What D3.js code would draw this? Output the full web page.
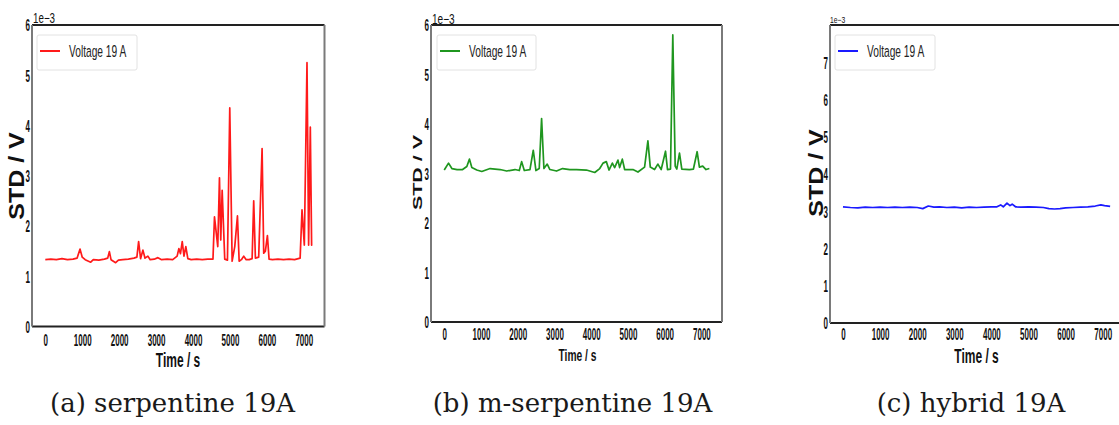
<!DOCTYPE html>
<html>
<head>
<meta charset="utf-8">
<script src="https://cdn.jsdelivr.net/npm/d3@7"></script>
<style>
  html, body { margin: 0; padding: 0; background: #fff; }
  svg { display: block; }
</style>
</head>
<body>
<svg id="chart" width="1119" height="425"></svg>
<script>
// ---------------- data (STD in units of 1e-3 V, time in s) ----------------
const timeA = [0,150,300,450,600,750,860,941,1000,1080,1230,1300,1450,1600,1690,1735,1780,1905,1980,2100,2250,2400,2480,2527,2580,2643,2700,2778,2840,2950,3050,3150,3300,3450,3570,3616,3660,3708,3755,3805,3860,3950,4100,4250,4400,4540,4581,4670,4716,4751,4789,4859,4932,4995,5059,5130,5203,5249,5310,5373,5440,5520,5600,5643,5689,5778,5870,5914,5959,6014,6059,6150,6300,6450,6600,6750,6900,6951,7014,7086,7130,7176,7211,7230];
const stdA  = [1.33,1.34,1.33,1.35,1.33,1.34,1.36,1.54,1.38,1.33,1.28,1.33,1.32,1.34,1.36,1.49,1.33,1.27,1.32,1.33,1.34,1.36,1.38,1.69,1.35,1.52,1.36,1.40,1.33,1.34,1.37,1.33,1.34,1.33,1.40,1.55,1.45,1.69,1.40,1.59,1.35,1.33,1.34,1.33,1.34,1.34,2.18,1.59,2.96,1.72,2.71,1.34,1.32,4.35,1.30,1.59,2.20,1.30,1.33,1.40,1.33,1.33,1.35,2.50,1.36,1.38,3.54,1.46,1.50,1.81,1.34,1.33,1.34,1.33,1.34,1.33,1.36,2.32,1.62,5.25,1.62,3.97,1.62,1.62];

const timeB = [0,117,208,350,500,615,687,751,886,1022,1248,1519,1700,1926,2043,2107,2179,2333,2424,2496,2586,2650,2713,2803,2876,3057,3220,3418,3599,3870,4096,4232,4322,4412,4485,4576,4638,4728,4774,4847,4910,5136,5272,5453,5543,5608,5724,5814,5905,6023,6077,6158,6221,6286,6330,6403,6466,6674,6782,6883,6945,7035,7125,7216];
const stdB  = [3.07,3.21,3.10,3.08,3.08,3.14,3.29,3.12,3.07,3.04,3.10,3.08,3.05,3.08,3.06,3.24,3.06,3.08,3.47,3.06,3.10,4.11,3.10,3.19,3.08,3.05,3.10,3.08,3.08,3.07,3.02,3.10,3.21,3.24,3.07,3.21,3.12,3.27,3.12,3.29,3.08,3.08,3.03,3.13,3.66,3.13,3.08,3.19,3.08,3.45,3.08,3.09,5.80,3.15,3.09,3.41,3.09,3.08,3.09,3.44,3.13,3.15,3.08,3.10];

const timeC = [0,200,400,600,800,1000,1200,1400,1600,1800,2000,2150,2300,2450,2600,2800,3000,3200,3400,3600,3800,4000,4150,4250,4320,4420,4500,4560,4650,4800,5000,5200,5400,5550,5700,5850,6000,6200,6400,6600,6800,6950,7050,7200];
const stdC  = [3.12,3.10,3.09,3.11,3.10,3.11,3.10,3.11,3.10,3.11,3.10,3.07,3.14,3.11,3.12,3.10,3.11,3.09,3.11,3.10,3.11,3.12,3.12,3.17,3.12,3.22,3.15,3.19,3.12,3.11,3.12,3.11,3.10,3.07,3.06,3.07,3.09,3.10,3.11,3.12,3.14,3.17,3.15,3.13];

const xTicks   = [0,1000,2000,3000,4000,5000,6000,7000];
const yTicksAB = [0,1,2,3,4,5,6];
const yTicksC  = [0,1,2,3,4,5,6,7];
const legendLabel = "Voltage 19 A";
const xLabel = "Time / s";
const yLabel = "STD / V";
const offsetLabel = "1e\u22123";
const captions = ["(a) serpentine 19A", "(b) m-serpentine 19A", "(c) hybrid 19A"];
const colors = ["#ff1a1a", "#1f961f", "#1a1aff"];

// ---------------- layout ----------------
const SANS = "'Liberation Sans', Arial, sans-serif";
const SERIF = "'DejaVu Serif', 'Liberation Serif', serif";
const panels = [
  { t: timeA, v: stdA, yTicks: yTicksAB, yMax: 6, color: colors[0], caption: captions[0],
    L: 32, R: 324.5, T: 25, B: 326.5, xDom: [-360, 7560],
    tickOff: 19, ylab: { x: 16, y: 176, fs: 25, sy: 0.85 }, xlab: { x: 178, y: 367, fs: 20, sx: 0.6 },
    off: { x: 33, y: 23, fs: 14, sx: 0.7 }, leg: { x: 37, y: 35, w: 100, h: 35 }, capX: 172.5 },
  { t: timeB, v: stdB, yTicks: yTicksAB, yMax: 6, color: colors[1], caption: captions[1],
    L: 431, R: 722, T: 25, B: 322, xDom: [-360, 7560],
    tickOff: 17.5, ylab: { x: 417.5, y: 172.5, fs: 21.5, sy: 0.63 }, xlab: { x: 577.5, y: 361, fs: 16.5, sx: 0.62 },
    off: { x: 432, y: 24, fs: 14, sx: 0.72 }, leg: { x: 437, y: 35, w: 99, h: 35 }, capX: 572.5 },
  { t: timeC, v: stdC, yTicks: yTicksC, yMax: 8, color: colors[2], caption: captions[2],
    L: 830, R: 1122, T: 25, B: 323, xDom: [-350, 7520],
    tickOff: 17, ylab: { x: 815.5, y: 173, fs: 25, sy: 0.82 }, xlab: { x: 976.5, y: 363, fs: 20, sx: 0.6 },
    off: { x: 830, y: 23, fs: 9, sx: 0.75 }, leg: { x: 835, y: 35, w: 100, h: 35 }, capX: 971 }
];

const svg = d3.select("#chart");
const TICK_FS = 16, TICK_SX = 0.5;

panels.forEach((p, i) => {
  const g = svg.append("g");
  const x = d3.scaleLinear().domain(p.xDom).range([p.L, p.R]);
  const y = d3.scaleLinear().domain([0, p.yMax]).range([p.B, p.T]);

  // data line
  const pts = p.t.map((d, k) => [d, p.v[k]]);
  g.append("path")
    .datum(pts)
    .attr("fill", "none")
    .attr("stroke", p.color)
    .attr("stroke-width", 1.7)
    .attr("stroke-linejoin", "round")
    .attr("d", d3.line().x(d => x(d[0])).y(d => y(d[1])));

  // frame
  g.append("line").attr("x1", p.L).attr("x2", p.R).attr("y1", p.T).attr("y2", p.T).attr("stroke", "#222").attr("stroke-width", 2);
  g.append("line").attr("x1", p.L).attr("x2", p.R).attr("y1", p.B).attr("y2", p.B).attr("stroke", "#222").attr("stroke-width", 2);
  g.append("line").attr("x1", p.L).attr("x2", p.L).attr("y1", p.T).attr("y2", p.B).attr("stroke", "#7a7a7a").attr("stroke-width", 2);
  g.append("line").attr("x1", p.R).attr("x2", p.R).attr("y1", p.T).attr("y2", p.B).attr("stroke", "#7a7a7a").attr("stroke-width", 2);

  // x axis
  const xa = g.append("g").attr("transform", `translate(0,${p.B})`)
    .call(d3.axisBottom(x).tickValues(xTicks).tickSize(0).tickPadding(0).tickFormat(d3.format("d")));
  xa.select(".domain").remove();
  xa.selectAll("text")
    .attr("y", null).attr("dy", null)
    .attr("transform", `translate(0,${p.tickOff}) scale(${TICK_SX},1)`)
    .attr("font-size", TICK_FS).attr("font-weight", "bold").attr("font-family", SANS).attr("fill", "#111");

  // y axis
  const ya = g.append("g").attr("transform", `translate(${p.L},0)`)
    .call(d3.axisLeft(y).tickValues(p.yTicks).tickSize(0).tickPadding(0).tickFormat(d3.format("d")));
  ya.select(".domain").remove();
  ya.selectAll("text")
    .attr("x", null).attr("dy", "0.36em")
    .attr("transform", `translate(-2,0) scale(${TICK_SX},1)`)
    .attr("font-size", TICK_FS).attr("font-weight", "bold").attr("font-family", SANS).attr("fill", "#111");

  // offset text
  g.append("text").attr("transform", `translate(${p.off.x},${p.off.y}) scale(${p.off.sx},1)`)
    .attr("font-family", SANS).attr("fill", "#111")
    .attr("font-size", p.off.fs).text(offsetLabel);

  // axis labels
  g.append("text").attr("transform", `translate(${p.xlab.x},${p.xlab.y}) scale(${p.xlab.sx},1)`)
    .attr("text-anchor", "middle").attr("font-family", SANS).attr("fill", "#111")
    .attr("font-size", p.xlab.fs).attr("font-weight", "bold").text(xLabel);
  g.append("text").attr("transform", `translate(${p.ylab.x},${p.ylab.y}) rotate(-90) scale(1,${p.ylab.sy})`)
    .attr("text-anchor", "middle").attr("dy", "0.36em").attr("font-family", SANS).attr("fill", "#111")
    .attr("font-size", p.ylab.fs).attr("font-weight", "bold").text(yLabel);

  // legend
  const lg = g.append("g").attr("transform", `translate(${p.leg.x},${p.leg.y})`);
  lg.append("rect").attr("width", p.leg.w).attr("height", p.leg.h).attr("rx", 2)
    .attr("fill", "#fff").attr("fill-opacity", 0.8).attr("stroke", "#e2e2e2").attr("stroke-width", 1);
  lg.append("line").attr("x1", 3).attr("x2", 23).attr("y1", 16).attr("y2", 16)
    .attr("stroke", p.color).attr("stroke-width", 2);
  lg.append("text").attr("transform", `translate(32,22) scale(0.6,1)`)
    .attr("font-family", SANS).attr("fill", "#222")
    .attr("font-size", 17).text(legendLabel);

  // caption
  svg.append("text")
    .attr("transform", `translate(${p.capX},412)`)
    .attr("text-anchor", "middle")
    .attr("font-family", SERIF).attr("fill", "#1a1a1a")
    .attr("font-size", 26).text(p.caption);
});
</script>
</body>
</html>
